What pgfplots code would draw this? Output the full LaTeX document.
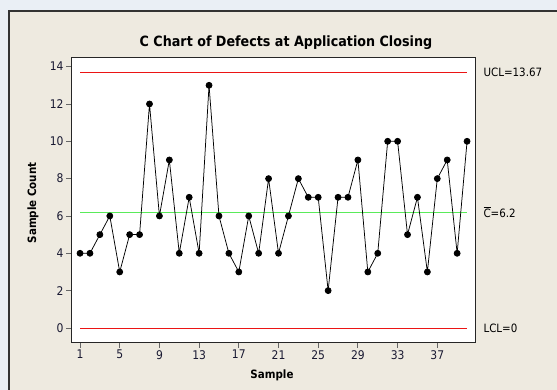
\documentclass[border=0pt]{standalone}
\usepackage{pgfplots}
\pgfplotsset{compat=1.18}
\usepackage{fontspec}
\setmainfont{DejaVu Sans Condensed}
\definecolor{bgbeige}{RGB}{238,234,224}
\definecolor{chrome}{RGB}{234,239,245}
\definecolor{clgreen}{RGB}{90,235,90}
\definecolor{clred}{RGB}{235,20,20}
\definecolor{ticktext}{RGB}{25,25,50}

\pgfplotstableread{
s c
1 4
2 4
3 5
4 6
5 3
6 5
7 5
8 12
9 6
10 9
11 4
12 7
13 4
14 13
15 6
16 4
17 3
18 6
19 4
20 8
21 4
22 6
23 8
24 7
25 7
26 2
27 7
28 7
29 9
30 3
31 4
32 10
33 10
34 5
35 7
36 3
37 8
38 9
39 4
40 10
}\defects

\begin{document}
\begin{tikzpicture}
\useasboundingbox (0,0) rectangle (557bp,390bp);
\fill[chrome] (0,0) rectangle (557bp,390bp);
\fill[bgbeige] (9bp,0) rectangle (557bp,379bp);
\draw[black!80, line width=1.5bp] (9bp,0) -- (9bp,379bp) -- (557bp,379bp);
\node[font=\bfseries\fontsize{14.2}{16}\selectfont] at (286bp,347bp) {C Chart of Defects at Application Closing};
\begin{axis}[
    at={(71bp,47.3bp)}, anchor=south west,
    scale only axis, width=404bp, height=285.4bp,
    xmin=0.09, xmax=40.8, ymin=-0.79, ymax=14.5,
    axis background/.style={fill=white},
    axis line style={black!85, line width=0.9bp},
    xtick={1,5,...,37}, ytick={0,2,...,14},
    tick align=outside, tick pos=left,
    major tick length=5bp,
    tick style={black!60, line width=0.9bp},
    tick label style={font=\fontsize{12}{13}\selectfont, text=ticktext},
    xticklabel style={yshift=1bp},
    yticklabel style={xshift=1bp},
    /pgf/number format/assume math mode=true,
    xlabel={Sample}, ylabel={Sample Count},
    label style={font=\bfseries\fontsize{11.5}{13}\selectfont},
    xlabel style={at={(axis description cs:0.4975,-0.115)}, anchor=center},
    ylabel style={at={(axis description cs:-0.094,0.49)}, anchor=center, rotate=0},
    clip=false,
]
\addplot[clred, line width=0.8bp, forget plot] coordinates {(1,13.67) (40,13.67)};
\addplot[clred, line width=0.8bp, forget plot] coordinates {(1,0) (40,0)};
\addplot[clgreen, line width=1.1bp, forget plot] coordinates {(1,6.2) (40,6.2)};
\addplot[black, line width=0.75bp, mark=*, mark size=3bp, mark options={fill=black}] table[x=s, y=c] {\defects};
\node[anchor=west, font=\fontsize{11.5}{13}\selectfont] at (axis cs:40.8,13.67) [xshift=5bp] {UCL=13.67};
\node[anchor=west, font=\fontsize{11.5}{13}\selectfont] at (axis cs:40.8,6.2) [xshift=5bp] {\(\overline{\mbox{C}}\)=6.2};
\node[anchor=west, font=\fontsize{11.5}{13}\selectfont] at (axis cs:40.8,0) [xshift=5bp] {LCL=0};
\end{axis}
\end{tikzpicture}
\end{document}
